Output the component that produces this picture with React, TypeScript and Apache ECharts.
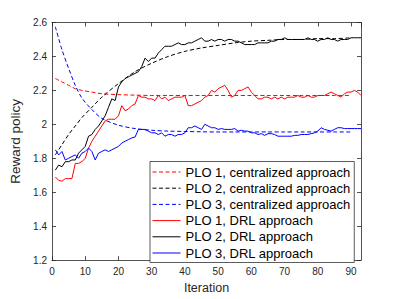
import React, { useEffect, useRef } from "react";
import * as echarts from "echarts";

const legendNames = [
  "PLO 1, centralized approach",
  "PLO 2, centralized approach",
  "PLO 3, centralized approach",
  "PLO 1, DRL approach",
  "PLO 2, DRL approach",
  "PLO 3, DRL approach",
];

const centralIters = [1, 3, 5, 7, 9, 12, 15, 20, 25, 30, 35, 40, 45, 50, 55, 60, 65, 70, 75, 80, 85, 90];
const plo1Central = [2.27, 2.25, 2.23, 2.21, 2.2, 2.19, 2.18, 2.175, 2.172, 2.17, 2.17, 2.17, 2.17, 2.17, 2.17, 2.17, 2.17, 2.17, 2.17, 2.17, 2.17, 2.17];
const plo2Central = [1.82, 1.88, 1.94, 1.99, 2.04, 2.1, 2.16, 2.24, 2.31, 2.36, 2.4, 2.43, 2.45, 2.465, 2.48, 2.49, 2.495, 2.5, 2.5, 2.505, 2.505, 2.51];
const plo3Central = [2.575, 2.44, 2.33, 2.23, 2.155, 2.087, 2.035, 1.995, 1.975, 1.965, 1.96, 1.958, 1.956, 1.955, 1.955, 1.955, 1.955, 1.955, 1.955, 1.955, 1.955, 1.955];

const plo1Drl = [
  1.69, 1.67, 1.665, 1.68, 1.68, 1.68, 1.77, 1.77, 1.78, 1.8,
  1.86, 1.9, 1.93, 1.96, 1.99, 2.02, 2.03, 2.03, 2.03, 2.05,
  2.11, 2.08, 2.09, 2.11, 2.12, 2.17, 2.16, 2.16, 2.15, 2.15,
  2.14, 2.17, 2.15, 2.16, 2.14, 2.15, 2.16, 2.16, 2.16, 2.17,
  2.11, 2.11, 2.12, 2.13, 2.14, 2.16, 2.17, 2.2, 2.19, 2.21,
  2.22, 2.23, 2.2, 2.16, 2.17, 2.2, 2.2, 2.21, 2.22, 2.19,
  2.17, 2.15, 2.15, 2.16, 2.16, 2.15, 2.16, 2.15, 2.16, 2.15,
  2.16, 2.16, 2.16, 2.17, 2.16, 2.16, 2.17, 2.16, 2.16, 2.17,
  2.17, 2.17, 2.18, 2.19, 2.18, 2.17, 2.16, 2.18, 2.19, 2.19,
  2.2, 2.19, 2.17,
];
const plo2Drl = [
  1.73, 1.76, 1.75, 1.78, 1.78, 1.79, 1.79, 1.83, 1.85, 1.87,
  1.93, 1.94, 1.97, 1.99, 2.02, 2.05, 2.1, 2.15, 2.14, 2.22,
  2.25, 2.27, 2.28, 2.29, 2.3, 2.31, 2.34, 2.39, 2.37, 2.39,
  2.39, 2.42, 2.44, 2.46, 2.46, 2.46, 2.47, 2.48, 2.47, 2.47,
  2.48, 2.48, 2.49, 2.5, 2.51, 2.49, 2.49, 2.5, 2.49, 2.5,
  2.5, 2.49, 2.5, 2.5, 2.49, 2.49, 2.48, 2.47, 2.47, 2.47,
  2.47, 2.48, 2.48, 2.48, 2.48, 2.49, 2.49, 2.5, 2.5, 2.51,
  2.5, 2.5, 2.5, 2.5, 2.5, 2.5, 2.51, 2.5, 2.5, 2.49,
  2.5, 2.5, 2.51, 2.5, 2.5, 2.49, 2.5, 2.5, 2.5, 2.51,
  2.51, 2.51, 2.51,
];
const plo3Drl = [
  1.85, 1.82, 1.84, 1.79, 1.8, 1.81, 1.82, 1.8, 1.83, 1.84,
  1.86, 1.84, 1.79, 1.83, 1.84, 1.85, 1.84, 1.85, 1.86, 1.87,
  1.89, 1.9, 1.91, 1.92, 1.925, 1.97, 1.97, 1.97, 1.96, 1.95,
  1.95, 1.94, 1.95, 1.93, 1.94, 1.94, 1.93, 1.94, 1.94, 1.95,
  1.98, 1.98, 1.99, 1.98, 1.97, 2.0, 1.99, 1.98, 1.98, 1.97,
  1.975, 1.97, 1.97, 1.97, 1.975, 1.96, 1.965, 1.96, 1.96, 1.95,
  1.95, 1.94, 1.945, 1.935, 1.945, 1.945, 1.94, 1.93, 1.93, 1.93,
  1.93, 1.93, 1.935, 1.935, 1.94, 1.94, 1.94, 1.945, 1.95, 1.96,
  1.98, 1.97, 1.965, 1.96, 1.97, 1.98, 1.98, 1.975, 1.975, 1.975,
  1.975, 1.975, 1.975,
];

const FONT = "'Liberation Sans', Arial, Helvetica, sans-serif";
const AXIS_COLOR = "#262626";

export default function App() {
  const ref = useRef<HTMLDivElement>(null);
  useEffect(() => {
    if (!ref.current) return;
    const chart = echarts.init(ref.current, null, { renderer: "svg" });
    const pairs = (xs: number[], ys: number[]) => ys.map((y, i) => [xs[i], y]);
    const iters = plo1Drl.map((_, i) => i + 1);
    const dash = [4, 2.5];
    const axisCommon = {
      type: "value" as const,
      axisLine: { show: true, onZero: false, lineStyle: { color: AXIS_COLOR, width: 0.8 } },
      axisTick: { show: true, inside: true, length: 4, lineStyle: { color: AXIS_COLOR, width: 0.8 } },
      splitLine: { show: false },
    };
    chart.setOption({
      animation: false,
      backgroundColor: "#ffffff",
      textStyle: { fontFamily: FONT },
      grid: { left: 52, top: 22.5, right: 38, bottom: 33, containLabel: false },
      xAxis: [
        {
          ...axisCommon,
          min: 0,
          max: 93,
          interval: 10,
          name: "Iteration",
          nameLocation: "middle",
          nameGap: 17,
          nameTextStyle: { fontSize: 12.5, color: AXIS_COLOR, fontFamily: FONT },
          axisLabel: { fontSize: 10, color: AXIS_COLOR, margin: 6, fontFamily: FONT },
        },
        {
          ...axisCommon,
          position: "top",
          min: 0,
          max: 93,
          interval: 10,
          axisLabel: { show: false },
        },
      ],
      yAxis: [
        {
          ...axisCommon,
          min: 1.2,
          max: 2.6,
          interval: 0.2,
          name: "Reward policy",
          nameLocation: "middle",
          nameGap: 26,
          nameTextStyle: { fontSize: 13.5, color: AXIS_COLOR, fontFamily: FONT },
          axisLabel: { fontSize: 10, color: AXIS_COLOR, margin: 5, fontFamily: FONT },
        },
        {
          ...axisCommon,
          position: "right",
          min: 1.2,
          max: 2.6,
          interval: 0.2,
          axisLabel: { show: false },
        },
      ],
      legend: {
        orient: "vertical",
        left: 150,
        top: 161.5,
        padding: [4, 4, 3, 2],
        itemWidth: 28,
        itemHeight: 12,
        itemGap: 3.2,
        backgroundColor: "#ffffff",
        borderColor: "#333333",
        borderWidth: 0.8,
        borderRadius: 0,
        itemStyle: { opacity: 0 },
        lineStyle: { width: 1 },
        textStyle: { fontSize: 13, color: "#000", fontFamily: FONT },
        data: legendNames,
      },
      series: [
        { name: legendNames[0], type: "line", data: pairs(centralIters, plo1Central), smooth: 0.3, symbol: "none", lineStyle: { color: "#ff0000", width: 1, type: dash }, itemStyle: { color: "#ff0000" }, z: 2 },
        { name: legendNames[1], type: "line", data: pairs(centralIters, plo2Central), smooth: 0.3, symbol: "none", lineStyle: { color: "#000000", width: 1, type: dash }, itemStyle: { color: "#000000" }, z: 2 },
        { name: legendNames[2], type: "line", data: pairs(centralIters, plo3Central), smooth: 0.3, symbol: "none", lineStyle: { color: "#0000ff", width: 1, type: dash }, itemStyle: { color: "#0000ff" }, z: 2 },
        { name: legendNames[3], type: "line", data: pairs(iters, plo1Drl), symbol: "none", lineStyle: { color: "#ff0000", width: 1 }, itemStyle: { color: "#ff0000" }, z: 3 },
        { name: legendNames[4], type: "line", data: pairs(iters, plo2Drl), symbol: "none", lineStyle: { color: "#000000", width: 1 }, itemStyle: { color: "#000000" }, z: 3 },
        { name: legendNames[5], type: "line", data: pairs(iters, plo3Drl), symbol: "none", lineStyle: { color: "#0000ff", width: 1 }, itemStyle: { color: "#0000ff" }, z: 3 },
      ],
    });
    return () => chart.dispose();
  }, []);
  return (
    <div
      ref={ref}
      style={{ position: "fixed", left: 0, top: 0, width: 399, height: 299, background: "#fff" }}
    />
  );
}
